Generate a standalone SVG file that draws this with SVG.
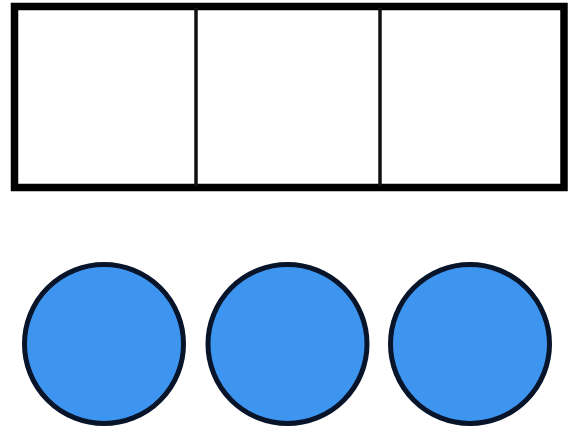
<svg xmlns="http://www.w3.org/2000/svg" width="577" height="427" viewBox="0 0 577 427">
<style>
.frame{fill:#fff;stroke:#000;stroke-width:7.5}
.div{stroke:#111;stroke-width:3.5}
.c{fill:#3d95ef;stroke:#08142a;stroke-width:5}
</style>
<rect width="577" height="427" fill="#fff"/>
<g id="box">
<rect class="frame" x="14.5" y="6.5" width="549.5" height="181"/>
<line class="div" x1="196" y1="8" x2="196" y2="186"/>
<line class="div" x1="380" y1="8" x2="380" y2="186"/>
</g>
<g id="circle1"><circle class="c" cx="104" cy="344" r="79.5"/></g>
<g id="circle2"><circle class="c" cx="287.5" cy="344" r="79.5"/></g>
<g id="circle3"><circle class="c" cx="470" cy="344" r="79.5"/></g>
</svg>
